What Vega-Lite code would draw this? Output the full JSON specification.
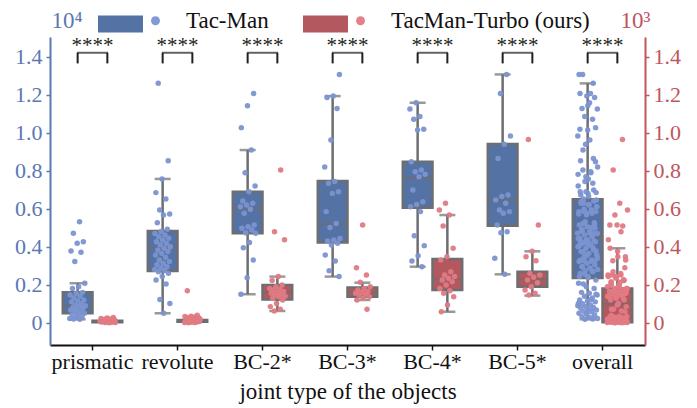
{
  "$schema": "https://vega.github.io/schema/vega-lite/v6.json",
  "autosize": "none",
  "width": 595,
  "height": 308,
  "padding": {"left": 50, "top": 37, "right": 52, "bottom": 63},
  "background": "white",
  "config": {
    "view": {"stroke": null},
    "font": "'Liberation Serif', 'Times New Roman', Times, serif",
    "axis": {"grid": false, "labelFont": "'Liberation Serif', 'Times New Roman', Times, serif", "titleFont": "'Liberation Serif', 'Times New Roman', Times, serif", "titleFontWeight": "normal"},
    "legend": {"labelFont": "'Liberation Serif', 'Times New Roman', Times, serif", "labelLimit": 400}
  },
  "datasets": {
    "box": [
      {"j": "prismatic", "s": "Tac-Man", "lo": 0.018, "q1": 0.05, "med": 0.09, "q3": 0.16, "hi": 0.208},
      {"j": "prismatic", "s": "TacMan-Turbo (ours)", "lo": 0.0, "q1": 0.003, "med": 0.006, "q3": 0.01, "hi": 0.015},
      {"j": "revolute", "s": "Tac-Man", "lo": 0.05, "q1": 0.272, "med": 0.392, "q3": 0.483, "hi": 0.757},
      {"j": "revolute", "s": "TacMan-Turbo (ours)", "lo": 0.0, "q1": 0.005, "med": 0.01, "q3": 0.015, "hi": 0.03},
      {"j": "BC-2*", "s": "Tac-Man", "lo": 0.15, "q1": 0.471, "med": 0.602, "q3": 0.69, "hi": 0.909},
      {"j": "BC-2*", "s": "TacMan-Turbo (ours)", "lo": 0.062, "q1": 0.123, "med": 0.16, "q3": 0.199, "hi": 0.243},
      {"j": "BC-3*", "s": "Tac-Man", "lo": 0.243, "q1": 0.423, "med": 0.52, "q3": 0.746, "hi": 1.193},
      {"j": "BC-3*", "s": "TacMan-Turbo (ours)", "lo": 0.12, "q1": 0.137, "med": 0.158, "q3": 0.185, "hi": 0.211},
      {"j": "BC-4*", "s": "Tac-Man", "lo": 0.295, "q1": 0.606, "med": 0.764, "q3": 0.848, "hi": 1.158},
      {"j": "BC-4*", "s": "TacMan-Turbo (ours)", "lo": 0.058, "q1": 0.172, "med": 0.229, "q3": 0.336, "hi": 0.567},
      {"j": "BC-5*", "s": "Tac-Man", "lo": 0.255, "q1": 0.511, "med": 0.646, "q3": 0.941, "hi": 1.307},
      {"j": "BC-5*", "s": "TacMan-Turbo (ours)", "lo": 0.143, "q1": 0.19, "med": 0.229, "q3": 0.269, "hi": 0.376},
      {"j": "overall", "s": "Tac-Man", "lo": 0.018, "q1": 0.235, "med": 0.447, "q3": 0.65, "hi": 1.26},
      {"j": "overall", "s": "TacMan-Turbo (ours)", "lo": 0.0, "q1": 0.003, "med": 0.1, "q3": 0.18, "hi": 0.392}
    ],
    "pts": [
      {"j":"prismatic","s":"Tac-Man","v":0.532},{"j":"prismatic","s":"Tac-Man","v":0.471},{"j":"prismatic","s":"Tac-Man","v":0.427},{"j":"prismatic","s":"Tac-Man","v":0.418},{"j":"prismatic","s":"Tac-Man","v":0.378},{"j":"prismatic","s":"Tac-Man","v":0.371},{"j":"prismatic","s":"Tac-Man","v":0.322},{"j":"prismatic","s":"Tac-Man","v":0.208},{"j":"prismatic","s":"Tac-Man","v":0.19},{"j":"prismatic","s":"Tac-Man","v":0.181},{"j":"prismatic","s":"Tac-Man","v":0.16},{"j":"prismatic","s":"Tac-Man","v":0.155},{"j":"prismatic","s":"Tac-Man","v":0.146},{"j":"prismatic","s":"Tac-Man","v":0.14},{"j":"prismatic","s":"Tac-Man","v":0.13},{"j":"prismatic","s":"Tac-Man","v":0.12},{"j":"prismatic","s":"Tac-Man","v":0.115},{"j":"prismatic","s":"Tac-Man","v":0.11},{"j":"prismatic","s":"Tac-Man","v":0.1},{"j":"prismatic","s":"Tac-Man","v":0.094},{"j":"prismatic","s":"Tac-Man","v":0.09},{"j":"prismatic","s":"Tac-Man","v":0.085},{"j":"prismatic","s":"Tac-Man","v":0.08},{"j":"prismatic","s":"Tac-Man","v":0.076},{"j":"prismatic","s":"Tac-Man","v":0.07},{"j":"prismatic","s":"Tac-Man","v":0.067},{"j":"prismatic","s":"Tac-Man","v":0.06},{"j":"prismatic","s":"Tac-Man","v":0.058},{"j":"prismatic","s":"Tac-Man","v":0.05},{"j":"prismatic","s":"Tac-Man","v":0.045},{"j":"prismatic","s":"Tac-Man","v":0.041},{"j":"prismatic","s":"Tac-Man","v":0.032},{"j":"prismatic","s":"Tac-Man","v":0.028},{"j":"prismatic","s":"Tac-Man","v":0.023},{"j":"prismatic","s":"Tac-Man","v":0.018},{"j":"prismatic","s":"Tac-Man","v":0.02},
      {"j":"prismatic","s":"TacMan-Turbo (ours)","v":0.028},{"j":"prismatic","s":"TacMan-Turbo (ours)","v":0.025},{"j":"prismatic","s":"TacMan-Turbo (ours)","v":0.022},{"j":"prismatic","s":"TacMan-Turbo (ours)","v":0.02},{"j":"prismatic","s":"TacMan-Turbo (ours)","v":0.018},{"j":"prismatic","s":"TacMan-Turbo (ours)","v":0.015},{"j":"prismatic","s":"TacMan-Turbo (ours)","v":0.013},{"j":"prismatic","s":"TacMan-Turbo (ours)","v":0.012},{"j":"prismatic","s":"TacMan-Turbo (ours)","v":0.01},{"j":"prismatic","s":"TacMan-Turbo (ours)","v":0.009},{"j":"prismatic","s":"TacMan-Turbo (ours)","v":0.008},{"j":"prismatic","s":"TacMan-Turbo (ours)","v":0.007},{"j":"prismatic","s":"TacMan-Turbo (ours)","v":0.006},{"j":"prismatic","s":"TacMan-Turbo (ours)","v":0.005},{"j":"prismatic","s":"TacMan-Turbo (ours)","v":0.005},{"j":"prismatic","s":"TacMan-Turbo (ours)","v":0.004},{"j":"prismatic","s":"TacMan-Turbo (ours)","v":0.003},{"j":"prismatic","s":"TacMan-Turbo (ours)","v":0.002},{"j":"prismatic","s":"TacMan-Turbo (ours)","v":0.001},{"j":"prismatic","s":"TacMan-Turbo (ours)","v":0.0},
      {"j":"revolute","s":"Tac-Man","v":1.26},{"j":"revolute","s":"Tac-Man","v":0.853},{"j":"revolute","s":"Tac-Man","v":0.757},{"j":"revolute","s":"Tac-Man","v":0.685},{"j":"revolute","s":"Tac-Man","v":0.651},{"j":"revolute","s":"Tac-Man","v":0.593},{"j":"revolute","s":"Tac-Man","v":0.572},{"j":"revolute","s":"Tac-Man","v":0.567},{"j":"revolute","s":"Tac-Man","v":0.527},{"j":"revolute","s":"Tac-Man","v":0.492},{"j":"revolute","s":"Tac-Man","v":0.48},{"j":"revolute","s":"Tac-Man","v":0.47},{"j":"revolute","s":"Tac-Man","v":0.462},{"j":"revolute","s":"Tac-Man","v":0.453},{"j":"revolute","s":"Tac-Man","v":0.445},{"j":"revolute","s":"Tac-Man","v":0.436},{"j":"revolute","s":"Tac-Man","v":0.427},{"j":"revolute","s":"Tac-Man","v":0.418},{"j":"revolute","s":"Tac-Man","v":0.41},{"j":"revolute","s":"Tac-Man","v":0.4},{"j":"revolute","s":"Tac-Man","v":0.392},{"j":"revolute","s":"Tac-Man","v":0.383},{"j":"revolute","s":"Tac-Man","v":0.375},{"j":"revolute","s":"Tac-Man","v":0.365},{"j":"revolute","s":"Tac-Man","v":0.357},{"j":"revolute","s":"Tac-Man","v":0.345},{"j":"revolute","s":"Tac-Man","v":0.33},{"j":"revolute","s":"Tac-Man","v":0.322},{"j":"revolute","s":"Tac-Man","v":0.313},{"j":"revolute","s":"Tac-Man","v":0.305},{"j":"revolute","s":"Tac-Man","v":0.295},{"j":"revolute","s":"Tac-Man","v":0.288},{"j":"revolute","s":"Tac-Man","v":0.281},{"j":"revolute","s":"Tac-Man","v":0.275},{"j":"revolute","s":"Tac-Man","v":0.269},{"j":"revolute","s":"Tac-Man","v":0.26},{"j":"revolute","s":"Tac-Man","v":0.243},{"j":"revolute","s":"Tac-Man","v":0.225},{"j":"revolute","s":"Tac-Man","v":0.204},{"j":"revolute","s":"Tac-Man","v":0.123},{"j":"revolute","s":"Tac-Man","v":0.102},{"j":"revolute","s":"Tac-Man","v":0.05},
      {"j":"revolute","s":"TacMan-Turbo (ours)","v":0.169},{"j":"revolute","s":"TacMan-Turbo (ours)","v":0.04},{"j":"revolute","s":"TacMan-Turbo (ours)","v":0.035},{"j":"revolute","s":"TacMan-Turbo (ours)","v":0.033},{"j":"revolute","s":"TacMan-Turbo (ours)","v":0.03},{"j":"revolute","s":"TacMan-Turbo (ours)","v":0.028},{"j":"revolute","s":"TacMan-Turbo (ours)","v":0.026},{"j":"revolute","s":"TacMan-Turbo (ours)","v":0.025},{"j":"revolute","s":"TacMan-Turbo (ours)","v":0.023},{"j":"revolute","s":"TacMan-Turbo (ours)","v":0.02},{"j":"revolute","s":"TacMan-Turbo (ours)","v":0.02},{"j":"revolute","s":"TacMan-Turbo (ours)","v":0.018},{"j":"revolute","s":"TacMan-Turbo (ours)","v":0.016},{"j":"revolute","s":"TacMan-Turbo (ours)","v":0.015},{"j":"revolute","s":"TacMan-Turbo (ours)","v":0.013},{"j":"revolute","s":"TacMan-Turbo (ours)","v":0.012},{"j":"revolute","s":"TacMan-Turbo (ours)","v":0.01},{"j":"revolute","s":"TacMan-Turbo (ours)","v":0.01},{"j":"revolute","s":"TacMan-Turbo (ours)","v":0.008},{"j":"revolute","s":"TacMan-Turbo (ours)","v":0.007},{"j":"revolute","s":"TacMan-Turbo (ours)","v":0.006},{"j":"revolute","s":"TacMan-Turbo (ours)","v":0.005},{"j":"revolute","s":"TacMan-Turbo (ours)","v":0.004},{"j":"revolute","s":"TacMan-Turbo (ours)","v":0.003},{"j":"revolute","s":"TacMan-Turbo (ours)","v":0.002},{"j":"revolute","s":"TacMan-Turbo (ours)","v":0.001},{"j":"revolute","s":"TacMan-Turbo (ours)","v":0.0},
      {"j":"BC-2*","s":"Tac-Man","v":1.207},{"j":"BC-2*","s":"Tac-Man","v":1.142},{"j":"BC-2*","s":"Tac-Man","v":1.027},{"j":"BC-2*","s":"Tac-Man","v":0.909},{"j":"BC-2*","s":"Tac-Man","v":0.79},{"j":"BC-2*","s":"Tac-Man","v":0.72},{"j":"BC-2*","s":"Tac-Man","v":0.69},{"j":"BC-2*","s":"Tac-Man","v":0.641},{"j":"BC-2*","s":"Tac-Man","v":0.629},{"j":"BC-2*","s":"Tac-Man","v":0.62},{"j":"BC-2*","s":"Tac-Man","v":0.611},{"j":"BC-2*","s":"Tac-Man","v":0.597},{"j":"BC-2*","s":"Tac-Man","v":0.576},{"j":"BC-2*","s":"Tac-Man","v":0.515},{"j":"BC-2*","s":"Tac-Man","v":0.506},{"j":"BC-2*","s":"Tac-Man","v":0.497},{"j":"BC-2*","s":"Tac-Man","v":0.488},{"j":"BC-2*","s":"Tac-Man","v":0.474},{"j":"BC-2*","s":"Tac-Man","v":0.471},{"j":"BC-2*","s":"Tac-Man","v":0.422},{"j":"BC-2*","s":"Tac-Man","v":0.395},{"j":"BC-2*","s":"Tac-Man","v":0.33},{"j":"BC-2*","s":"Tac-Man","v":0.237},{"j":"BC-2*","s":"Tac-Man","v":0.15},
      {"j":"BC-2*","s":"TacMan-Turbo (ours)","v":0.804},{"j":"BC-2*","s":"TacMan-Turbo (ours)","v":0.479},{"j":"BC-2*","s":"TacMan-Turbo (ours)","v":0.437},{"j":"BC-2*","s":"TacMan-Turbo (ours)","v":0.243},{"j":"BC-2*","s":"TacMan-Turbo (ours)","v":0.222},{"j":"BC-2*","s":"TacMan-Turbo (ours)","v":0.199},{"j":"BC-2*","s":"TacMan-Turbo (ours)","v":0.19},{"j":"BC-2*","s":"TacMan-Turbo (ours)","v":0.181},{"j":"BC-2*","s":"TacMan-Turbo (ours)","v":0.175},{"j":"BC-2*","s":"TacMan-Turbo (ours)","v":0.172},{"j":"BC-2*","s":"TacMan-Turbo (ours)","v":0.164},{"j":"BC-2*","s":"TacMan-Turbo (ours)","v":0.16},{"j":"BC-2*","s":"TacMan-Turbo (ours)","v":0.155},{"j":"BC-2*","s":"TacMan-Turbo (ours)","v":0.15},{"j":"BC-2*","s":"TacMan-Turbo (ours)","v":0.146},{"j":"BC-2*","s":"TacMan-Turbo (ours)","v":0.14},{"j":"BC-2*","s":"TacMan-Turbo (ours)","v":0.137},{"j":"BC-2*","s":"TacMan-Turbo (ours)","v":0.129},{"j":"BC-2*","s":"TacMan-Turbo (ours)","v":0.12},{"j":"BC-2*","s":"TacMan-Turbo (ours)","v":0.102},{"j":"BC-2*","s":"TacMan-Turbo (ours)","v":0.085},{"j":"BC-2*","s":"TacMan-Turbo (ours)","v":0.071},{"j":"BC-2*","s":"TacMan-Turbo (ours)","v":0.062},
      {"j":"BC-3*","s":"Tac-Man","v":1.307},{"j":"BC-3*","s":"Tac-Man","v":1.193},{"j":"BC-3*","s":"Tac-Man","v":1.186},{"j":"BC-3*","s":"Tac-Man","v":1.128},{"j":"BC-3*","s":"Tac-Man","v":0.962},{"j":"BC-3*","s":"Tac-Man","v":0.82},{"j":"BC-3*","s":"Tac-Man","v":0.743},{"j":"BC-3*","s":"Tac-Man","v":0.734},{"j":"BC-3*","s":"Tac-Man","v":0.69},{"j":"BC-3*","s":"Tac-Man","v":0.681},{"j":"BC-3*","s":"Tac-Man","v":0.585},{"j":"BC-3*","s":"Tac-Man","v":0.523},{"j":"BC-3*","s":"Tac-Man","v":0.502},{"j":"BC-3*","s":"Tac-Man","v":0.444},{"j":"BC-3*","s":"Tac-Man","v":0.436},{"j":"BC-3*","s":"Tac-Man","v":0.43},{"j":"BC-3*","s":"Tac-Man","v":0.418},{"j":"BC-3*","s":"Tac-Man","v":0.409},{"j":"BC-3*","s":"Tac-Man","v":0.357},{"j":"BC-3*","s":"Tac-Man","v":0.325},{"j":"BC-3*","s":"Tac-Man","v":0.274},{"j":"BC-3*","s":"Tac-Man","v":0.243},
      {"j":"BC-3*","s":"TacMan-Turbo (ours)","v":0.515},{"j":"BC-3*","s":"TacMan-Turbo (ours)","v":0.29},{"j":"BC-3*","s":"TacMan-Turbo (ours)","v":0.251},{"j":"BC-3*","s":"TacMan-Turbo (ours)","v":0.213},{"j":"BC-3*","s":"TacMan-Turbo (ours)","v":0.19},{"j":"BC-3*","s":"TacMan-Turbo (ours)","v":0.181},{"j":"BC-3*","s":"TacMan-Turbo (ours)","v":0.172},{"j":"BC-3*","s":"TacMan-Turbo (ours)","v":0.164},{"j":"BC-3*","s":"TacMan-Turbo (ours)","v":0.16},{"j":"BC-3*","s":"TacMan-Turbo (ours)","v":0.155},{"j":"BC-3*","s":"TacMan-Turbo (ours)","v":0.15},{"j":"BC-3*","s":"TacMan-Turbo (ours)","v":0.146},{"j":"BC-3*","s":"TacMan-Turbo (ours)","v":0.137},{"j":"BC-3*","s":"TacMan-Turbo (ours)","v":0.129},{"j":"BC-3*","s":"TacMan-Turbo (ours)","v":0.12},{"j":"BC-3*","s":"TacMan-Turbo (ours)","v":0.071},
      {"j":"BC-4*","s":"Tac-Man","v":1.158},{"j":"BC-4*","s":"Tac-Man","v":1.125},{"j":"BC-4*","s":"Tac-Man","v":1.085},{"j":"BC-4*","s":"Tac-Man","v":1.071},{"j":"BC-4*","s":"Tac-Man","v":1.018},{"j":"BC-4*","s":"Tac-Man","v":1.014},{"j":"BC-4*","s":"Tac-Man","v":0.848},{"j":"BC-4*","s":"Tac-Man","v":0.804},{"j":"BC-4*","s":"Tac-Man","v":0.795},{"j":"BC-4*","s":"Tac-Man","v":0.781},{"j":"BC-4*","s":"Tac-Man","v":0.769},{"j":"BC-4*","s":"Tac-Man","v":0.699},{"j":"BC-4*","s":"Tac-Man","v":0.637},{"j":"BC-4*","s":"Tac-Man","v":0.623},{"j":"BC-4*","s":"Tac-Man","v":0.611},{"j":"BC-4*","s":"Tac-Man","v":0.585},{"j":"BC-4*","s":"Tac-Man","v":0.458},{"j":"BC-4*","s":"Tac-Man","v":0.406},{"j":"BC-4*","s":"Tac-Man","v":0.353},{"j":"BC-4*","s":"Tac-Man","v":0.325},{"j":"BC-4*","s":"Tac-Man","v":0.295},
      {"j":"BC-4*","s":"TacMan-Turbo (ours)","v":0.629},{"j":"BC-4*","s":"TacMan-Turbo (ours)","v":0.593},{"j":"BC-4*","s":"TacMan-Turbo (ours)","v":0.567},{"j":"BC-4*","s":"TacMan-Turbo (ours)","v":0.509},{"j":"BC-4*","s":"TacMan-Turbo (ours)","v":0.392},{"j":"BC-4*","s":"TacMan-Turbo (ours)","v":0.348},{"j":"BC-4*","s":"TacMan-Turbo (ours)","v":0.33},{"j":"BC-4*","s":"TacMan-Turbo (ours)","v":0.269},{"j":"BC-4*","s":"TacMan-Turbo (ours)","v":0.251},{"j":"BC-4*","s":"TacMan-Turbo (ours)","v":0.243},{"j":"BC-4*","s":"TacMan-Turbo (ours)","v":0.234},{"j":"BC-4*","s":"TacMan-Turbo (ours)","v":0.225},{"j":"BC-4*","s":"TacMan-Turbo (ours)","v":0.216},{"j":"BC-4*","s":"TacMan-Turbo (ours)","v":0.199},{"j":"BC-4*","s":"TacMan-Turbo (ours)","v":0.181},{"j":"BC-4*","s":"TacMan-Turbo (ours)","v":0.169},{"j":"BC-4*","s":"TacMan-Turbo (ours)","v":0.155},{"j":"BC-4*","s":"TacMan-Turbo (ours)","v":0.137},{"j":"BC-4*","s":"TacMan-Turbo (ours)","v":0.093},{"j":"BC-4*","s":"TacMan-Turbo (ours)","v":0.058},
      {"j":"BC-5*","s":"Tac-Man","v":1.307},{"j":"BC-5*","s":"Tac-Man","v":1.207},{"j":"BC-5*","s":"Tac-Man","v":0.983},{"j":"BC-5*","s":"Tac-Man","v":0.939},{"j":"BC-5*","s":"Tac-Man","v":0.865},{"j":"BC-5*","s":"Tac-Man","v":0.672},{"j":"BC-5*","s":"Tac-Man","v":0.664},{"j":"BC-5*","s":"Tac-Man","v":0.646},{"j":"BC-5*","s":"Tac-Man","v":0.629},{"j":"BC-5*","s":"Tac-Man","v":0.593},{"j":"BC-5*","s":"Tac-Man","v":0.585},{"j":"BC-5*","s":"Tac-Man","v":0.576},{"j":"BC-5*","s":"Tac-Man","v":0.515},{"j":"BC-5*","s":"Tac-Man","v":0.479},{"j":"BC-5*","s":"Tac-Man","v":0.474},{"j":"BC-5*","s":"Tac-Man","v":0.339},{"j":"BC-5*","s":"Tac-Man","v":0.255},
      {"j":"BC-5*","s":"TacMan-Turbo (ours)","v":0.965},{"j":"BC-5*","s":"TacMan-Turbo (ours)","v":0.515},{"j":"BC-5*","s":"TacMan-Turbo (ours)","v":0.376},{"j":"BC-5*","s":"TacMan-Turbo (ours)","v":0.348},{"j":"BC-5*","s":"TacMan-Turbo (ours)","v":0.327},{"j":"BC-5*","s":"TacMan-Turbo (ours)","v":0.26},{"j":"BC-5*","s":"TacMan-Turbo (ours)","v":0.251},{"j":"BC-5*","s":"TacMan-Turbo (ours)","v":0.239},{"j":"BC-5*","s":"TacMan-Turbo (ours)","v":0.225},{"j":"BC-5*","s":"TacMan-Turbo (ours)","v":0.211},{"j":"BC-5*","s":"TacMan-Turbo (ours)","v":0.19},{"j":"BC-5*","s":"TacMan-Turbo (ours)","v":0.172},{"j":"BC-5*","s":"TacMan-Turbo (ours)","v":0.155},{"j":"BC-5*","s":"TacMan-Turbo (ours)","v":0.146}
    ]
  },
  "resolve": {"scale": {"y": "independent"}},
  "layer": [
    {
      "resolve": {"scale": {"xOffset": "independent"}},
      "layer": [
        {
          "data": {"name": "box"},
          "mark": {"type": "rule", "color": "#6d6e71", "strokeWidth": 2.5},
          "encoding": {
            "x": {"field": "j", "type": "nominal", "sort": null, "title": "joint type of the objects",
              "scale": {"domain": ["prismatic", "revolute", "BC-2*", "BC-3*", "BC-4*", "BC-5*", "overall"], "paddingInner": 0, "paddingOuter": 0},
              "axis": {"labelAngle": 0, "labelFontSize": 22, "labelColor": "#111111", "domainColor": "#111111", "domainWidth": 2, "tickColor": "#111111", "tickSize": 5, "tickWidth": 1.5, "labelPadding": 1, "titleFontSize": 23, "titleColor": "#111111", "titlePadding": 8}},
            "xOffset": {"field": "s", "type": "nominal", "scale": {"domain": ["Tac-Man", "TacMan-Turbo (ours)"], "paddingInner": 0, "paddingOuter": 0.43}},
            "y": {"field": "lo", "type": "quantitative", "title": "10⁴",
              "scale": {"domain": [-0.117, 1.504], "nice": false, "zero": false},
              "axis": {"orient": "left", "values": [0, 0.2, 0.4, 0.6, 0.8, 1.0, 1.2, 1.4], "labelExpr": "datum.value == 0 ? '0' : format(datum.value, '.1f')",
                "labelFontSize": 22, "labelColor": "#5a78b2", "domainColor": "#5a78b2", "domainWidth": 2, "tickColor": "#5a78b2", "tickSize": 4, "tickWidth": 1.5, "labelPadding": 4,
                "titleAngle": 0, "titleAlign": "left", "titleBaseline": "alphabetic", "titleX": 1, "titleY": -10, "titleFontSize": 23, "titleColor": "#5a78b2"}},
            "y2": {"field": "hi"}
          }
        },
        {
          "data": {"name": "box"},
          "mark": {"type": "tick", "color": "#6d6e71", "size": 16, "thickness": 2.5, "orient": "horizontal"},
          "encoding": {
            "x": {"field": "j", "type": "nominal", "sort": null, "title": "joint type of the objects"},
            "xOffset": {"field": "s", "type": "nominal", "scale": {"domain": ["Tac-Man", "TacMan-Turbo (ours)"], "paddingInner": 0, "paddingOuter": 0.43}},
            "y": {"field": "lo", "type": "quantitative", "title": "10⁴"}
          }
        },
        {
          "data": {"name": "box"},
          "mark": {"type": "tick", "color": "#6d6e71", "size": 16, "thickness": 2.5, "orient": "horizontal"},
          "encoding": {
            "x": {"field": "j", "type": "nominal", "sort": null, "title": "joint type of the objects"},
            "xOffset": {"field": "s", "type": "nominal", "scale": {"domain": ["Tac-Man", "TacMan-Turbo (ours)"], "paddingInner": 0, "paddingOuter": 0.43}},
            "y": {"field": "hi", "type": "quantitative", "title": "10⁴"}
          }
        },
        {
          "data": {"name": "box"},
          "mark": {"type": "bar", "stroke": "#6d6e71", "strokeWidth": 2.5, "opacity": 1},
          "encoding": {
            "x": {"field": "j", "type": "nominal", "sort": null, "title": "joint type of the objects"},
            "xOffset": {"field": "s", "type": "nominal", "scale": {"domain": ["Tac-Man", "TacMan-Turbo (ours)"], "paddingInner": 0, "paddingOuter": 0.43}},
            "y": {"field": "q1", "type": "quantitative", "title": "10⁴"},
            "y2": {"field": "q3"},
            "fill": {"field": "s", "type": "nominal", "scale": {"range": ["#5473a4", "#b3585f"]},
              "legend": {"orient": "none", "legendX": 48, "legendY": -36, "direction": "horizontal", "title": null, "symbolType": "M-1,-0.38H1V0.38H-1Z", "symbolSize": 2025, "symbolStrokeWidth": 0, "symbolStrokeColor": "transparent", "labelExpr": "''", "labelOffset": 0, "columnPadding": 160}}
          }
        },
        {
          "data": {"name": "box"},
          "mark": {"type": "tick", "color": "#6d6e71", "size": 30, "thickness": 2.5, "orient": "horizontal"},
          "encoding": {
            "x": {"field": "j", "type": "nominal", "sort": null, "title": "joint type of the objects"},
            "xOffset": {"field": "s", "type": "nominal", "scale": {"domain": ["Tac-Man", "TacMan-Turbo (ours)"], "paddingInner": 0, "paddingOuter": 0.43}},
            "y": {"field": "med", "type": "quantitative", "title": "10⁴"}
          }
        },
        {
          "data": {"name": "pts"},
          "transform": [
            {"window": [{"op": "row_number", "as": "rn"}]},
            {"calculate": "(datum.s == 'Tac-Man' ? 0.325 : 0.675) + ((datum.rn * 0.618034) % 1 - 0.5) * 0.19", "as": "jit"}
          ],
          "mark": {"type": "circle", "size": 30, "opacity": 0.95},
          "encoding": {
            "x": {"field": "j", "type": "nominal", "sort": null, "title": "joint type of the objects"},
            "xOffset": {"field": "jit", "type": "quantitative", "scale": {"domain": [0, 1], "zero": false, "nice": false}},
            "y": {"field": "v", "type": "quantitative", "title": "10⁴"},
            "color": {"field": "s", "type": "nominal", "scale": {"domain": ["Tac-Man", "TacMan-Turbo (ours)"], "range": ["#7b93d1", "#e07a83"]},
              "legend": {"orient": "none", "legendX": 94, "legendY": -28, "direction": "horizontal", "title": null, "symbolType": "circle", "symbolSize": 80, "symbolOpacity": 1, "symbolStrokeWidth": 0, "labelFontSize": 23, "labelColor": "#111111", "labelOffset": 19, "columnPadding": 80, "labelLimit": 400}}
          }
        },
        {
          "data": {"name": "pts"},
          "transform": [
            {"window": [{"op": "row_number", "as": "rn"}]},
            {"calculate": "(datum.s == 'Tac-Man' ? 0.325 : 0.675) + ((datum.rn * 0.381966) % 1 - 0.5) * 0.24", "as": "jit"},
            {"calculate": "'overall'", "as": "j"}
          ],
          "mark": {"type": "circle", "size": 30, "opacity": 0.95},
          "encoding": {
            "x": {"field": "j", "type": "nominal", "sort": null, "title": "joint type of the objects"},
            "xOffset": {"field": "jit", "type": "quantitative", "scale": {"domain": [0, 1], "zero": false, "nice": false}},
            "y": {"field": "v", "type": "quantitative", "title": "10⁴"},
            "color": {"field": "s", "type": "nominal"}
          }
        },
        {
          "data": {"name": "box"},
          "mark": {"type": "rule", "color": "#231f20", "strokeWidth": 2},
          "encoding": {
            "x": {"field": "j", "type": "nominal", "sort": null, "title": "joint type of the objects"},
            "xOffset": {"field": "s", "type": "nominal", "scale": {"domain": ["Tac-Man", "TacMan-Turbo (ours)"], "paddingInner": 0, "paddingOuter": 0.43}},
            "y": {"datum": 1.365, "type": "quantitative", "title": "10⁴"},
            "y2": {"datum": 1.421}
          }
        },
        {
          "data": {"name": "box"},
          "transform": [{"filter": "datum.s == 'Tac-Man'"}],
          "mark": {"type": "tick", "color": "#231f20", "size": 31, "thickness": 2, "orient": "horizontal"},
          "encoding": {
            "x": {"field": "j", "type": "nominal", "sort": null, "title": "joint type of the objects"},
            "y": {"datum": 1.421, "type": "quantitative", "title": "10⁴"}
          }
        },
        {
          "data": {"name": "box"},
          "transform": [{"filter": "datum.s == 'Tac-Man'"}],
          "mark": {"type": "text", "text": "****", "font": "'Liberation Serif', 'Times New Roman', Times, serif", "fontSize": 21, "color": "#231f20", "baseline": "alphabetic", "align": "center"},
          "encoding": {
            "x": {"field": "j", "type": "nominal", "sort": null, "title": "joint type of the objects"},
            "y": {"datum": 1.425, "type": "quantitative", "title": "10⁴"}
          }
        }
      ]
    },
    {
      "data": {"name": "box"},
      "mark": {"type": "point", "opacity": 0},
      "encoding": {
        "y": {"field": "q1", "type": "quantitative", "title": "10³",
          "scale": {"domain": [-0.117, 1.504], "nice": false, "zero": false},
          "axis": {"orient": "right", "values": [0, 0.2, 0.4, 0.6, 0.8, 1.0, 1.2, 1.4], "labelExpr": "datum.value == 0 ? '0' : format(datum.value, '.1f')",
            "labelFontSize": 22, "labelColor": "#c0555e", "domainColor": "#c0555e", "domainWidth": 2, "tickColor": "#c0555e", "tickSize": 4, "tickWidth": 1.5, "labelPadding": 4,
            "titleAngle": 0, "titleAlign": "left", "titleBaseline": "alphabetic", "titleX": -25, "titleY": -10, "titleFontSize": 23, "titleColor": "#c0555e"}}
      }
    }
  ]
}
